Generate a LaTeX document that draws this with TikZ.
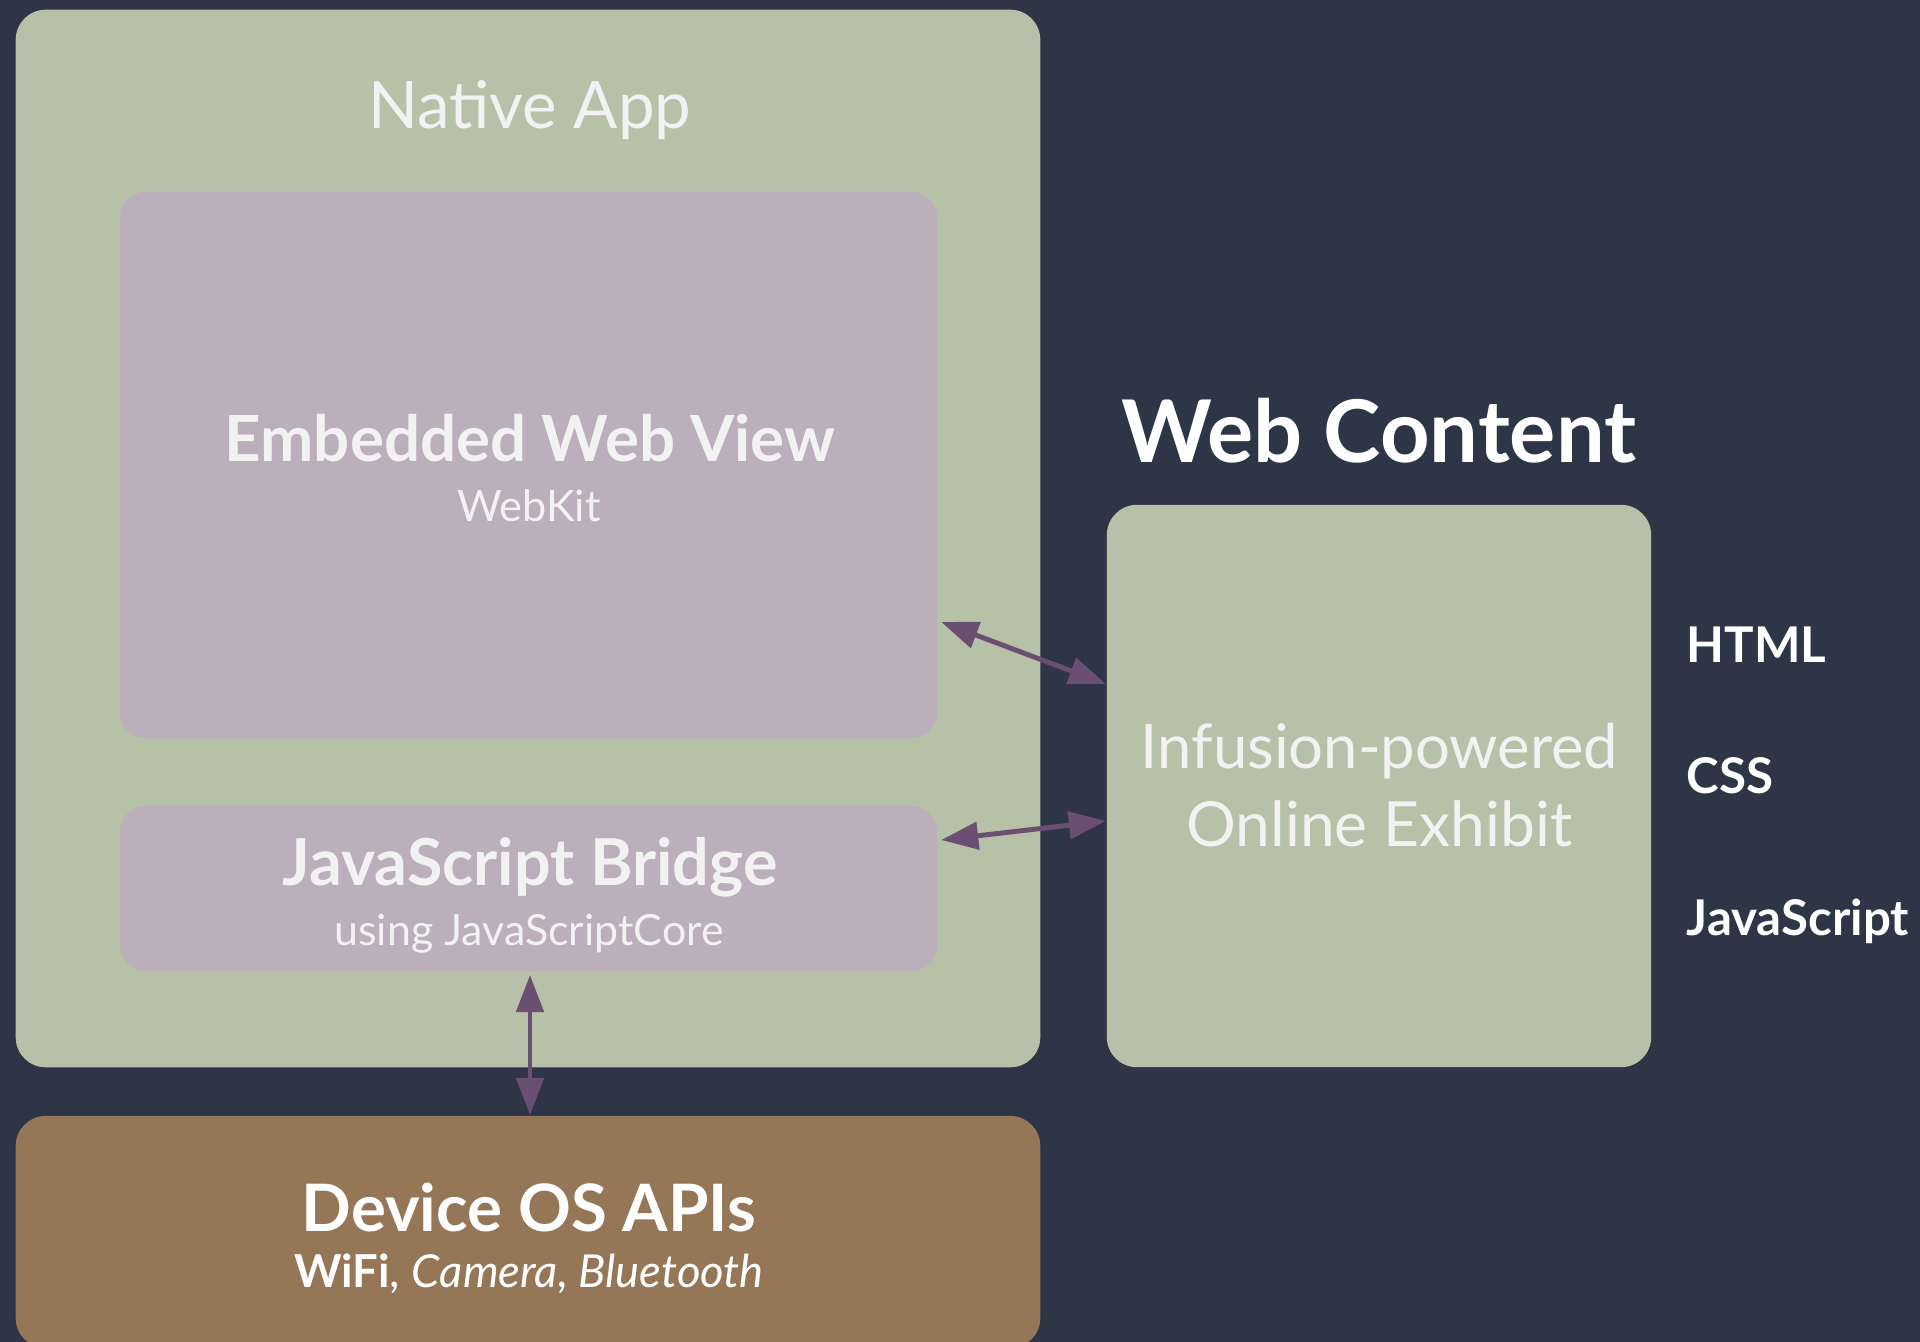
\documentclass[tikz,border=0pt]{standalone}
\usepackage{fontspec}
\setmainfont{Lato}
\usetikzlibrary{arrows.meta,calc}

\definecolor{bgnavy}{HTML}{2D3547}
\definecolor{sage}{HTML}{B7C1A8}
\definecolor{mauve}{HTML}{BAAFBB}
\definecolor{umber}{HTML}{957656}
\definecolor{plum}{HTML}{6B4F72}
\definecolor{paper}{HTML}{F2F2F2}

\newcommand\sz[1]{\fontsize{#1}{1.2\dimexpr #1\relax}\selectfont}

\begin{document}
\begin{tikzpicture}[x=0.01cm, y=-0.01cm,
  panel/.style={rounded corners=0.3cm, inner sep=0pt, outer sep=0pt, draw=none},
  inpanel/.style={rounded corners=0.26cm, inner sep=0pt, outer sep=0pt, draw=none, fill=mauve},
  txt/.style={text=paper, inner sep=0pt, anchor=base},
  sidetxt/.style={text=white, inner sep=0pt, anchor=base west, font=\bfseries\sz{14pt}},
  biarrow/.style={draw=plum, line width=1.4pt,
    {Triangle[length=0.37cm, width=0.27cm]}-{Triangle[length=0.37cm, width=0.27cm]}}]

  % page and background
  \useasboundingbox (0,0) rectangle (1920,1342);
  \clip (0,0) rectangle (1920,1342);
  \fill[bgnavy] (0,0) rectangle (1920,1342);

  % native app container and its inner panels
  \node[panel, fill=sage, minimum width=10.24cm, minimum height=10.57cm] (native) at (528,538.5) {};
  \node[inpanel, minimum width=8.17cm, minimum height=5.46cm] (webview) at (528.5,465) {};
  \node[inpanel, minimum width=8.17cm, minimum height=1.65cm] (bridge) at (528.5,888.5) {};

  % device layer (runs off the bottom edge)
  \node[panel, fill=umber, minimum width=10.24cm, minimum height=2.32cm] (device) at (528,1232) {};

  % web content panel
  \node[panel, fill=sage, minimum width=5.44cm, minimum height=5.62cm] (webc) at (1379,786) {};

  % labels
  \node[txt, font=\sz{18.6pt}] (nativeT) at (530,128) {Native App};
  \node[txt, font=\bfseries\sz{18.1pt}] (webviewT) at (530,461) {Embedded Web View};
  \node[txt, font=\sz{12.3pt}] (webviewS) at (529,521) {WebKit};
  \node[txt, font=\bfseries\sz{18.4pt}] (bridgeT) at (530,885) {JavaScript Bridge};
  \node[txt, font=\sz{12.2pt}] (bridgeS) at (529,945) {using JavaScriptCore};
  \node[txt, text=white, font=\bfseries\sz{18.6pt}] (deviceT) at (529,1231) {Device OS APIs};
  \node[txt, text=white, font=\sz{12.9pt}] (deviceS) at (529,1287) {\textbf{WiFi}, \textit{Camera, Bluetooth}};
  \node[txt, text=white, font=\bfseries\sz{24.6pt}] (webcT) at (1379,462) {Web Content};
  \node[txt, font=\sz{17.5pt}] (webcA) at (1379.5,768) {Infusion-powered};
  \node[txt, font=\sz{17.7pt}] (webcB) at (1379.5,846) {Online Exhibit};

  \node[sidetxt] (html) at (1686,662) {HTML};
  \node[sidetxt] (css) at (1686,793) {CSS};
  \node[sidetxt] (js) at (1686,935) {JavaScript};

  % connectors
  \draw[biarrow] ($(webview.east)+(4,157)$) -- ($(webc.west)+(-1,-102)$);
  \draw[biarrow] ($(bridge.east)+(4,-48.5)$) -- ($(webc.west)+(-1,35)$);
  \draw[biarrow] ($(bridge.south)+(1.5,4)$) -- ($(device.north)+(2,-1)$);
\end{tikzpicture}
\end{document}
